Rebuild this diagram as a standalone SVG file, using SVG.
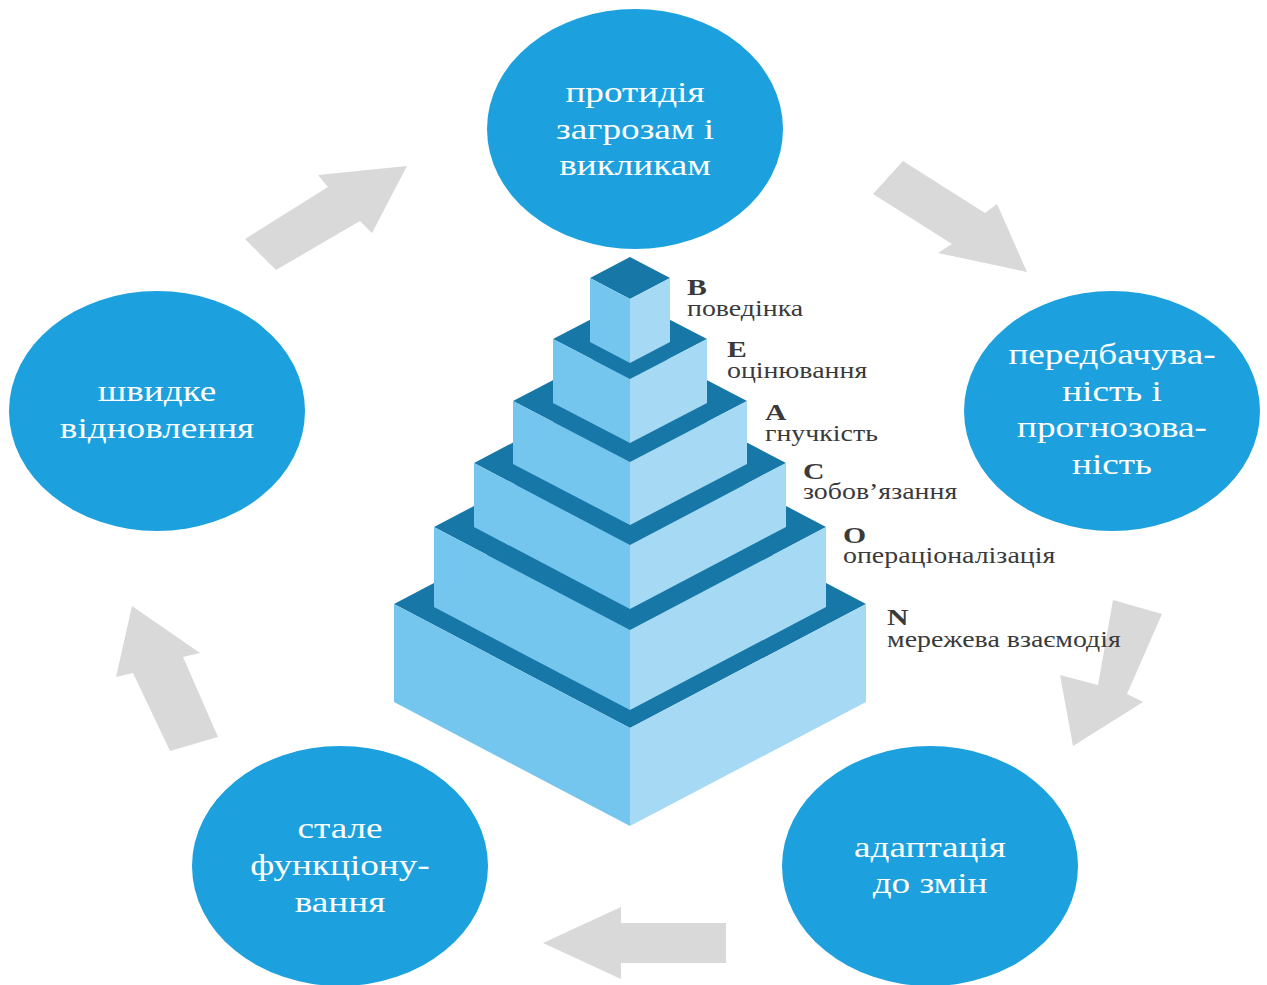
<svg xmlns="http://www.w3.org/2000/svg" width="1267" height="985" viewBox="0 0 1267 985">
  <style>
    .bg { fill: #ffffff; }
    .node { fill: #1ca1de; }
    .ntext { font-family: "Liberation Serif", "DejaVu Serif", serif; font-size: 30px; fill: #ffffff; text-anchor: middle; }
    .arrow { fill: #d9d9d9; }
    .top { fill: #1778a8; }
    .lf { fill: #74c6ee; }
    .rf { fill: #a5d9f4; }
    .label { font-family: "Liberation Serif", "DejaVu Serif", serif; font-size: 22.5px; fill: #3a3a3a; }
    .key { font-size: 24px; font-weight: bold; }
  </style>
  <rect class="bg" x="0" y="0" width="1267" height="985"/>

  <!-- cycle arrows between the outer nodes -->
  <g id="connectors">
    <polygon class="arrow" points="245,239 328,187 318,175 407,166 372,233 360,221 276,270"/>
    <polygon class="arrow" points="903,161 985,213 997,204 1027,272 938,253 952,244 873,194"/>
    <polygon class="arrow" points="1113,600 1162,614 1127,694 1143,702 1073,746 1060,675 1098,685"/>
    <polygon class="arrow" points="726,923 621,923 621,907 543,943 621,979 621,963 726,963"/>
    <polygon class="arrow" points="218,737 170,751 133,673 116,677 132,606 200,653 183,657"/>
  </g>

  <!-- outer nodes -->
  <g id="node-threats">
    <ellipse class="node" cx="635" cy="129" rx="148" ry="120"/>
    <g transform="translate(635 0) scale(1.24 1)">
      <text class="ntext" x="0" y="102">протидія</text>
      <text class="ntext" x="0" y="139">загрозам і</text>
      <text class="ntext" x="0" y="175">викликам</text>
    </g>
  </g>
  <g id="node-forecast">
    <ellipse class="node" cx="1112" cy="411" rx="148" ry="120"/>
    <g transform="translate(1112 0) scale(1.24 1)">
      <text class="ntext" x="0" y="364">передбачува-</text>
      <text class="ntext" x="0" y="401">ність і</text>
      <text class="ntext" x="0" y="437">прогнозова-</text>
      <text class="ntext" x="0" y="474">ність</text>
    </g>
  </g>
  <g id="node-adapt">
    <ellipse class="node" cx="930" cy="866" rx="148" ry="120"/>
    <g transform="translate(930 0) scale(1.24 1)">
      <text class="ntext" x="0" y="857">адаптація</text>
      <text class="ntext" x="0" y="893">до змін</text>
    </g>
  </g>
  <g id="node-sustain">
    <ellipse class="node" cx="340" cy="866" rx="148" ry="120"/>
    <g transform="translate(340 0) scale(1.24 1)">
      <text class="ntext" x="0" y="838">стале</text>
      <text class="ntext" x="0" y="875">функціону-</text>
      <text class="ntext" x="0" y="912">вання</text>
    </g>
  </g>
  <g id="node-recovery">
    <ellipse class="node" cx="157" cy="411" rx="148" ry="120"/>
    <g transform="translate(157 0) scale(1.24 1)">
      <text class="ntext" x="0" y="401">швидке</text>
      <text class="ntext" x="0" y="438">відновлення</text>
    </g>
  </g>

  <!-- stepped isometric pyramid, bottom tier first -->
  <g id="pyramid">
    <g id="tier-n">
      <polygon class="top" points="630,480 866,604 630,728 394,604"/>
      <polygon class="lf" points="394,604 630,728 630,826 394,702"/>
      <polygon class="rf" points="630,728 866,604 866,702 630,826"/>
    </g>
    <g id="tier-o">
      <polygon class="top" points="630,424 826,527 630,630 434,527"/>
      <polygon class="lf" points="434,527 630,630 630,710 434,607"/>
      <polygon class="rf" points="630,630 826,527 826,607 630,710"/>
    </g>
    <g id="tier-c">
      <polygon class="top" points="630,381 786,463 630,545 474,463"/>
      <polygon class="lf" points="474,463 630,545 630,609 474,527"/>
      <polygon class="rf" points="630,545 786,463 786,527 630,609"/>
    </g>
    <g id="tier-a">
      <polygon class="top" points="630,340 747,401 630,462 513,401"/>
      <polygon class="lf" points="513,401 630,462 630,525 513,464"/>
      <polygon class="rf" points="630,462 747,401 747,464 630,525"/>
    </g>
    <g id="tier-e">
      <polygon class="top" points="630,299 707,339 630,379 553,339"/>
      <polygon class="lf" points="553,339 630,379 630,443 553,403"/>
      <polygon class="rf" points="630,379 707,339 707,403 630,443"/>
    </g>
    <g id="tier-b">
      <polygon class="top" points="630,257 670,278 630,299 590,278"/>
      <polygon class="lf" points="590,278 630,299 630,363 590,342"/>
      <polygon class="rf" points="630,299 670,278 670,342 630,363"/>
    </g>
  </g>

  <!-- tier labels: bold key letter with its term underneath -->
  <g id="labels">
    <g transform="translate(687 0) scale(1.24 1)">
      <text class="label" x="0" y="295"><tspan class="key">B</tspan><tspan x="0" dy="21">поведінка</tspan></text>
    </g>
    <g transform="translate(727 0) scale(1.24 1)">
      <text class="label" x="0" y="357"><tspan class="key">E</tspan><tspan x="0" dy="21">оцінювання</tspan></text>
    </g>
    <g transform="translate(765 0) scale(1.24 1)">
      <text class="label" x="0" y="420"><tspan class="key">A</tspan><tspan x="0" dy="21">гнучкість</tspan></text>
    </g>
    <g transform="translate(803 0) scale(1.24 1)">
      <text class="label" x="0" y="479"><tspan class="key">C</tspan><tspan x="0" dy="20">зобов’язання</tspan></text>
    </g>
    <g transform="translate(843 0) scale(1.24 1)">
      <text class="label" x="0" y="543"><tspan class="key">O</tspan><tspan x="0" dy="20">операціоналізація</tspan></text>
    </g>
    <g transform="translate(887 0) scale(1.24 1)">
      <text class="label" x="0" y="625"><tspan class="key">N</tspan><tspan x="0" dy="22">мережева взаємодія</tspan></text>
    </g>
  </g>
</svg>
